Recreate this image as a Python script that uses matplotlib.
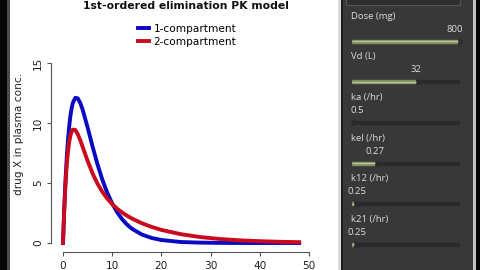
import numpy as np
import matplotlib
matplotlib.use("Agg")
import matplotlib.pyplot as plt
from matplotlib.patches import Rectangle, Circle

# concentration-time profiles
time_hr = [0, 0.25, 0.5, 0.75, 1, 1.25, 1.5, 1.75, 2, 2.5, 3, 3.5, 4, 5, 6, 7, 8,
           9, 10, 11, 12, 13, 14, 16, 18, 20, 24, 28, 32, 36, 40, 44, 48]
conc_1cmt = [0, 2.84, 5.16, 7.03, 8.53, 9.69, 10.58, 11.22, 11.68, 12.10, 12.05,
             11.68, 11.10, 9.63, 8.05, 6.57, 5.27, 4.18, 3.29, 2.57, 1.99, 1.54,
             1.19, 0.71, 0.42, 0.25, 0.08, 0.03, 0.01, 0.0, 0.0, 0.0, 0.0]
conc_2cmt = [0, 2.74, 4.85, 6.43, 7.58, 8.40, 8.95, 9.28, 9.45, 9.42, 9.07,
             8.58, 8.00, 6.84, 5.81, 4.95, 4.26, 3.70, 3.24, 2.86, 2.55, 2.28,
             2.04, 1.65, 1.34, 1.09, 0.73, 0.49, 0.33, 0.22, 0.15, 0.10, 0.07]
series_labels = ["1-compartment", "2-compartment"]
x_ticks = [0, 10, 20, 30, 40, 50]
y_ticks = [0, 5, 10, 15]

# slider panel
param_names = ["Dose (mg)", "Vd (L)", "ka (/hr)", "kel (/hr)", "k12 (/hr)", "k21 (/hr)"]
param_values = [800, 32, 0.5, 0.27, 0.25, 0.25]
param_min = [0, 5, 0.5, 0.01, 0.2, 0.2]
param_max = [800, 50, 3, 1.2, 3, 3]

W, H = 480, 270
fig = plt.figure(figsize=(W / 100, H / 100), dpi=100)

# background / frame, drawn in pixel coordinates
bg = fig.add_axes([0, 0, 1, 1])
bg.set_xlim(0, W)
bg.set_ylim(H, 0)
bg.axis("off")
for x0, x1, c in [(0, 7, "#050505"), (7, 10, "#4a4a4a"), (10, 338, "white"),
                  (338, 341, "#d9d9d9"), (341, 343, "#1c1c1c"), (343, 473, "#383838"),
                  (473, 476, "#c4c4c4"), (476, 480, "#050505")]:
    bg.add_patch(Rectangle((x0, 0), x1 - x0, H, color=c, lw=0))

# top (cut off) box in sidebar
bg.add_patch(Rectangle((346, -6), 114, 11, facecolor="#2e2e2e", edgecolor="#555555", lw=0.8))

tx0, tx1 = 352, 458
for i, name in enumerate(param_names):
    track_y = 41.7 + 40.6 * i
    frac = (param_values[i] - param_min[i]) / (param_max[i] - param_min[i])
    xk = tx0 + frac * (tx1 - tx0)
    bg.text(351, track_y - 25.5, name, color="#dcdcdc", fontsize=6.8,
            family="Open Sans", va="center", ha="left")
    xv = min(max(xk, 357), 455)
    bg.text(xv, track_y - 12.5, f"{param_values[i]:g}", color="#dcdcdc",
            fontsize=6.8, family="Open Sans", va="center", ha="center")
    bg.plot([tx0, tx1 + 2], [track_y, track_y], color="#2a2a2a", lw=3,
            solid_capstyle="butt")
    if frac > 0.01:
        bg.plot([tx0, xk], [track_y, track_y], color="#7d8c62", lw=3.2,
                solid_capstyle="butt")
        bg.plot([tx0, xk], [track_y - 0.6, track_y - 0.6], color="#b8c79a",
                lw=1.0, solid_capstyle="butt")
    bg.add_patch(Circle((xk + 2, track_y), 3.2, color="#2f2f2f", lw=0))

# main plot
L, R, T, B = 51, 318.8, 55.8, 252
ax = fig.add_axes([L / W, (H - B) / H, (R - L) / W, (B - T) / H])
ax.set_facecolor("none")
ax.plot(time_hr, conc_1cmt, color="#0a0ac4", lw=2.8, label=series_labels[0],
        solid_joinstyle="round")
ax.plot(time_hr, conc_2cmt, color="#cc0a1e", lw=2.8, label=series_labels[1],
        solid_joinstyle="round")
ax.set_xlim(-(63 - L) / 4.92, (R - 63) / 4.92)
ax.set_ylim(-(B - 243) / 12, (243 - T) / 12)
for s in ["top", "right"]:
    ax.spines[s].set_visible(False)
ax.spines["left"].set_bounds(0, 15)
ax.spines["bottom"].set_bounds(0, 50)
for s in ["left", "bottom"]:
    ax.spines[s].set_color("#555555")
    ax.spines[s].set_linewidth(0.8)
ax.set_xticks(x_ticks)
ax.set_yticks(y_ticks)
ax.tick_params(direction="out", length=3.2, width=0.8, color="#555555",
               labelsize=7.6, labelcolor="#222222", pad=2.5)
ax.tick_params(axis="x", pad=3.2)
ax.tick_params(axis="y", labelrotation=90)
for lab in ax.get_yticklabels():
    lab.set_va("center")
ax.set_ylabel("drug X in plasma conc.", fontsize=7.6, color="#222222")
ax.yaxis.set_label_coords(-(L - 24) / (R - L), 1 - (134 - T) / (B - T))

leg = ax.legend(loc="center", bbox_to_anchor=(187 / W, 1 - 35.5 / H),
                bbox_transform=fig.transFigure, frameon=False, fontsize=7.6,
                handlelength=1.05, handletextpad=0.45, labelspacing=0.25,
                borderpad=0)
for ln in leg.get_lines():
    ln.set_linewidth(2.8)

fig.text(186 / W, 1 - 9 / H, "1st-ordered elimination PK model",
         fontsize=7.8, fontweight="bold", ha="center", va="baseline", color="#111111")

fig.savefig("out.png", dpi=100)
